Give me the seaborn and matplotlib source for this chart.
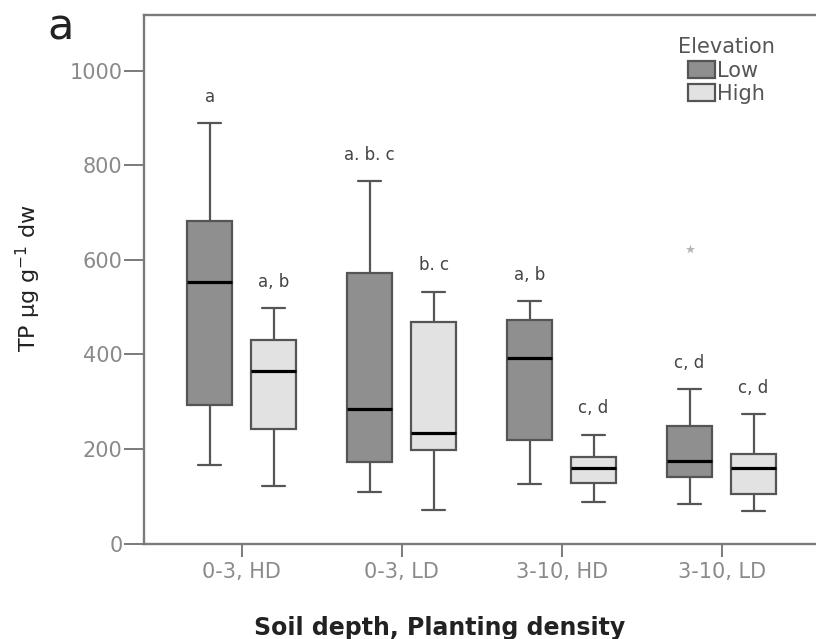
import pandas as pd
import matplotlib.pyplot as plt
import seaborn as sns
from matplotlib.patches import Patch

sns.set_style("ticks")
plt.rcParams["font.family"] = ["DejaVu Sans"]

groups = ["0-3, HD", "0-3, LD", "3-10, HD", "3-10, LD"]
elevations = ["Low", "High"]

# five-number summaries (whisker low, Q1, median, Q3, whisker high)
low_min = [166, 108, 126, 84]
low_q1 = [292, 173, 219, 140]
low_med = [554, 284, 392, 175]
low_q3 = [683, 573, 473, 249]
low_max = [889, 767, 512, 327]

high_min = [122, 71, 88, 69]
high_q1 = [242, 198, 129, 104]
high_med = [364, 233, 159, 159]
high_q3 = [431, 469, 182, 189]
high_max = [498, 533, 230, 273]

# significance letters above each box
letters_low = ["a", "a. b. c", "a, b", "c, d"]
letters_high = ["a, b", "b. c", "c, d", "c, d"]

# outlier
outlier_group = ["3-10, LD"]
outlier_elev = ["Low"]
outlier_value = [623]

colors = {"Low": "#8f8f8f", "High": "#e2e2e2"}
edge = "#555555"

rows = []
summaries = {
    "Low": (low_min, low_q1, low_med, low_q3, low_max),
    "High": (high_min, high_q1, high_med, high_q3, high_max),
}
for elev, stats in summaries.items():
    for i, g in enumerate(groups):
        for s in stats:
            rows.append({"group": g, "Elevation": elev, "TP": s[i]})
df = pd.DataFrame(rows)
out_df = pd.DataFrame({"group": outlier_group, "Elevation": outlier_elev, "TP": outlier_value})

fig = plt.figure(figsize=(8.16, 6.39), dpi=100)
ax = fig.add_axes([144 / 816, 95.5 / 639, 676 / 816, 528.5 / 639])

sns.boxplot(data=df, x="group", y="TP", hue="Elevation", order=groups, hue_order=elevations,
            palette=colors, saturation=1, width=0.8, gap=0.3, whis=(0, 100), showfliers=False,
            linecolor=edge, linewidth=1.6, legend=False,
            medianprops=dict(color="black", linewidth=2.3), ax=ax)

sns.stripplot(data=out_df, x="group", y="TP", hue="Elevation", order=groups, hue_order=elevations,
              dodge=True, jitter=False, marker="*", size=7, palette={"Low": "#b5b5b5", "High": "#b5b5b5"},
              legend=False, ax=ax)

dodge_off = {"Low": -0.2, "High": 0.2}
for elev, letters, tops in [("Low", letters_low, low_max), ("High", letters_high, high_max)]:
    for i, (lab, top) in enumerate(zip(letters, tops)):
        ax.annotate(lab, (i + dodge_off[elev], top), xytext=(0, 19), textcoords="offset points",
                    ha="center", va="center", fontsize=12, color="#444444")

ax.set_xlim(-0.61, 3.615)
ax.set_ylim(0, 1118)
ax.set_yticks([0, 200, 400, 600, 800, 1000])

for side in ["left", "top", "bottom"]:
    ax.spines[side].set_color("#7a7a7a")
    ax.spines[side].set_linewidth(1.7)
ax.spines["right"].set_visible(False)

ax.tick_params(axis="y", length=14.5, width=1.4, color="#7a7a7a", labelcolor="#8a8a8a",
               labelsize=15, pad=1)
ax.tick_params(axis="x", length=9.5, width=1.4, color="#7a7a7a", labelcolor="#8a8a8a",
               labelsize=15, pad=4)

ax.set_xlabel("Soil depth, Planting density", fontsize=17, fontweight="bold", color="#222222")
ax.xaxis.set_label_coords(0.438, -0.138)
ax.set_ylabel("TP μg g$^{-1}$ dw", fontsize=16, color="#222222")
ax.yaxis.set_label_coords(-0.149, 0.502)

handles = [Patch(facecolor=colors[e], edgecolor=edge, linewidth=1.6, label=e) for e in elevations]
leg = ax.legend(handles=handles, title="Elevation", frameon=False, loc="upper left",
                bbox_to_anchor=(668 / 816, 1 - 27 / 639), bbox_transform=fig.transFigure,
                fontsize=15, title_fontsize=15, handlelength=1.3, handleheight=0.9,
                handletextpad=0.1, labelspacing=0.15, borderpad=0, labelcolor="#555555")
leg.get_title().set_color("#555555")

fig.text(47 / 816, 1 - 40 / 639, "a", fontsize=31, color="#222222", va="baseline")

fig.savefig("out.png", dpi=100)
